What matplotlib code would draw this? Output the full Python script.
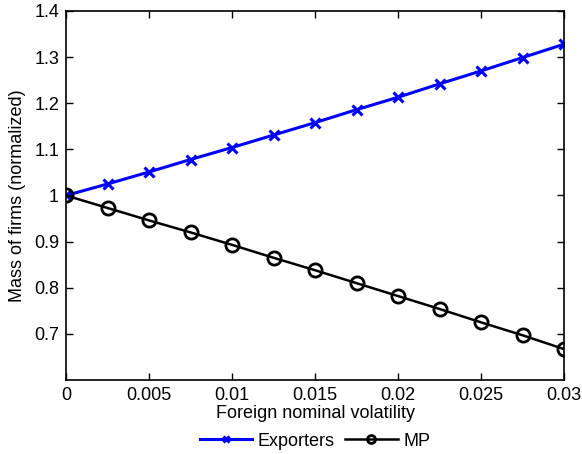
import matplotlib.pyplot as plt
import numpy as np

plt.rcParams["font.family"] = ["Liberation Sans", "DejaVu Sans"]

volatility = [0.0, 0.0025, 0.005, 0.0075, 0.01, 0.0125, 0.015,
              0.0175, 0.02, 0.0225, 0.025, 0.0275, 0.03]
exporters = [1.000, 1.025, 1.051, 1.078, 1.104, 1.131, 1.158,
             1.186, 1.213, 1.242, 1.270, 1.299, 1.328]
mp = [1.000, 0.973, 0.946, 0.920, 0.893, 0.865, 0.838,
      0.810, 0.782, 0.754, 0.725, 0.697, 0.667]

x_ticks = [0, 0.005, 0.01, 0.015, 0.02, 0.025, 0.03]
x_labels = ["0", "0.005", "0.01", "0.015", "0.02", "0.025", "0.03"]
y_ticks = [0.7, 0.8, 0.9, 1.0, 1.1, 1.2, 1.3, 1.4]
y_labels = ["0.7", "0.8", "0.9", "1", "1.1", "1.2", "1.3", "1.4"]

fig = plt.figure(figsize=(5.82, 4.54), dpi=100)
ax = fig.add_axes([0.1134, 0.163, 0.8557, 0.8128])

ax.plot(volatility, exporters, color="#0000ff", lw=2.2, marker="x",
        ms=7, mew=2.2, label="Exporters")
ax.plot(volatility, mp, color="black", lw=1.8, marker="o", ms=9.5,
        mew=2.0, mfc="none", label="MP")

ax.set_xlim(0, 0.03)
ax.set_ylim(0.6, 1.4)
ax.set_xticks(x_ticks)
ax.set_xticklabels(x_labels)
ax.set_yticks(y_ticks)
ax.set_yticklabels(y_labels)
ax.tick_params(direction="in", top=True, right=True, length=5,
               width=1, labelsize=13, pad=5)
for side in ax.spines.values():
    side.set_linewidth(1.2)

ax.set_xlabel("Foreign nominal volatility", fontsize=13, labelpad=1)
ax.set_ylabel("Mass of firms (normalized)", fontsize=13, labelpad=6)

leg = ax.legend(loc="center", bbox_to_anchor=(0.541, 0.028),
                bbox_transform=fig.transFigure, ncol=2, frameon=False,
                fontsize=13, handlelength=2.9, columnspacing=0.6,
                handletextpad=0.3, markerscale=0.6)

fig.savefig("out.png", dpi=100)
